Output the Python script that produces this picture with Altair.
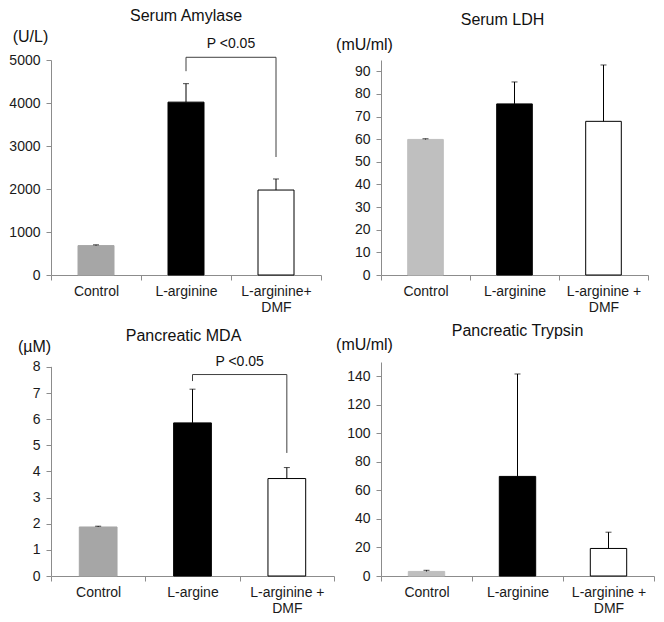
import altair as alt
import pandas as pd

FONT = "Liberation Sans"

# ---- data ----
amylase_cats = ["Control", "L-arginine", "L-arginine+\nDMF"]
amylase_mean = [684, 4020, 1976]
amylase_err = [18, 430, 257]
amylase_bracket = [4740, 5063, 5063, 2744]
amylase_p_y = 5366

ldh_cats = ["Control", "L-arginine", "L-arginine +\nDMF"]
ldh_mean = [59.9, 75.6, 67.9]
ldh_err = [0.3, 9.7, 24.9]

mda_cats = ["Control", "L-argine", "L-arginine +\nDMF"]
mda_mean = [1.876, 5.86, 3.73]
mda_err = [0.03, 1.29, 0.42]
mda_bracket = [7.46, 7.71, 7.71, 4.71]
mda_p_y = 8.19

trypsin_cats = ["Control", "L-arginine", "L-arginine +\nDMF"]
trypsin_mean = [3.2, 69.8, 19.3]
trypsin_err = [0.8, 71.8, 11.4]

dark_gray = "#A6A6A6"
light_gray = "#BFBFBF"
axis_gray = "#8C8C8C"


def panel(title, unit, cats, means, errs, ctrl_color, domain, ticks, w, h,
          tdx, toff, ux, uy, bracket=None, p_y=None, axis_top=None):
    df = pd.DataFrame({
        "cat": cats,
        "mean": means,
        "top": [m + e for m, e in zip(means, errs)],
    })
    xaxis = alt.Axis(title=None, labelAngle=0, tickBand="extent",
                     labelExpr="split(datum.label, '\\n')",
                     labelPadding=4, labelLineHeight=16)
    xscale = alt.Scale(paddingInner=0, paddingOuter=0)

    def X(**kw):
        return alt.X("cat:N", sort=cats, scale=xscale, axis=xaxis, **kw)

    yscale = alt.Scale(domain=domain, nice=False, zero=True)
    yaxis = alt.Axis(values=ticks, format="d", title=unit, titleAngle=0,
                     titleX=ux, titleY=uy,
                     titleAlign="center", titleBaseline="alphabetic",
                     titleFontSize=16, titleFontWeight="normal", titleColor="#111111",
                     titleFont=FONT, labelPadding=6, labelOverlap=False,
                     domain=axis_top is None)

    def Y(field):
        return alt.Y(field, scale=yscale, axis=yaxis)

    bars = alt.Chart(df).mark_bar(width=alt.RelativeBandSize(0.4), strokeWidth=1).encode(
        x=X(),
        y=Y("mean:Q"),
        fill=alt.Fill("cat:N", scale=alt.Scale(domain=cats, range=[ctrl_color, "#000000", "#FFFFFF"]), legend=None),
        stroke=alt.Stroke("cat:N", scale=alt.Scale(domain=cats, range=[ctrl_color, "#000000", "#000000"]), legend=None),
    )
    err = alt.Chart(df).mark_rule(color="#000000", strokeWidth=1).encode(
        x=X(),
        y=Y("mean:Q"),
        y2="top:Q",
    )
    cap = alt.Chart(df).mark_tick(color="#000000", thickness=1, size=6).encode(
        x=X(),
        y=Y("top:Q"),
    )
    layers = [bars, err, cap]
    if axis_top is not None:
        axline = alt.Chart(df).mark_rule(color=axis_gray, strokeWidth=1).encode(
            x=alt.value(0.5),
            y=alt.Y(datum=0, scale=yscale, axis=yaxis),
            y2=alt.datum(axis_top),
        )
        layers.append(axline)
    if bracket is not None:
        bdf = pd.DataFrame({
            "cat": [cats[1], cats[1], cats[2], cats[2]],
            "val": bracket,
            "ord": [0, 1, 2, 3],
        })
        br = alt.Chart(bdf).mark_line(color="#404040", strokeWidth=1).encode(
            x=X(),
            y=Y("val:Q"),
            order="ord:O",
        )
        tdf = pd.DataFrame({"cat": [cats[1]], "val": [p_y], "txt": ["P <0.05"]})
        txt = alt.Chart(tdf).mark_text(font=FONT, fontSize=14, baseline="middle",
                                       color="#111111").encode(
            x=X(bandPosition=1),
            y=Y("val:Q"),
            text="txt:N",
        )
        layers += [br, txt]
    return alt.layer(*layers).properties(
        width=w, height=h,
        title=alt.TitleParams(title, dx=tdx, offset=toff),
    )


p1 = panel("Serum Amylase", "(U/L)", amylase_cats, amylase_mean, amylase_err, dark_gray,
           [0, 5000], [0, 1000, 2000, 3000, 4000, 5000], 270, 215,
           0, 4, -21, -19, amylase_bracket, amylase_p_y)
p2 = panel("Serum LDH", "(mU/ml)", ldh_cats, ldh_mean, ldh_err, light_gray,
           [0, 95], list(range(0, 91, 10)), 267, 215,
           -12, 8, -17, -11)
p3 = panel("Pancreatic MDA", "(\u00b5M)", mda_cats, mda_mean, mda_err, dark_gray,
           [0, 8.19], list(range(0, 9)), 283, 214,
           -9, -6, -17, -11, mda_bracket, mda_p_y, axis_top=8)
p4 = panel("Pancreatic Trypsin", "(mU/ml)", trypsin_cats, trypsin_mean, trypsin_err, light_gray,
           [0, 150], list(range(0, 141, 20)), 273, 214,
           0, -3, -17, -13)

chart = alt.concat(
    p1, p2, p3, p4, columns=2, spacing={"row": 87, "column": 47}, bounds="flush"
).resolve_scale(
    fill="independent", stroke="independent"
).properties(
    padding=0
).configure_view(stroke=None).configure_axis(
    grid=False, domainColor=axis_gray, tickColor=axis_gray, tickSize=5,
    labelFont=FONT, labelFontSize=14, labelColor="#1A1A1A",
).configure_title(
    font=FONT, fontSize=16, fontWeight="normal", color="#111111",
    anchor="middle", frame="group",
)

chart.save("out.html", embed_options={"renderer": "svg", "actions": False})
